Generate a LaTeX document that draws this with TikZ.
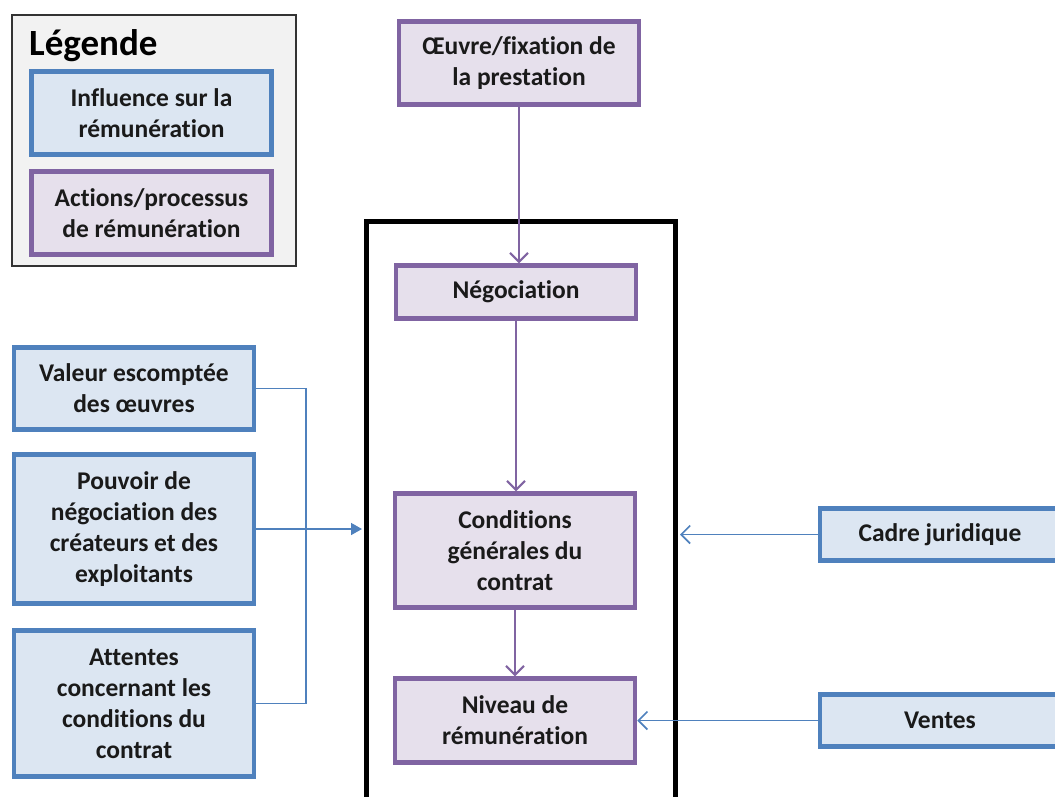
\documentclass[tikz,border=0pt]{standalone}
\usepackage{fontspec}
\setmainfont[Ligatures=NoCommon]{Carlito}
\usetikzlibrary{arrows.meta}
\definecolor{bfill}{HTML}{DCE6F2}
\definecolor{bdraw}{HTML}{4F81BD}
\definecolor{pfill}{HTML}{E6E0EC}
\definecolor{pdraw}{HTML}{8064A2}
\definecolor{lgfill}{HTML}{F2F2F2}
\definecolor{txt}{HTML}{1A1A1A}
\tikzset{
  box/.style={rectangle, line width=4.5pt, minimum width=240pt, align=center, text=txt,
    font=\bfseries\fontsize{25.5}{31}\selectfont, inner sep=2pt},
  infl/.style={box, draw=bdraw, fill=bfill},
  proc/.style={box, draw=pdraw, fill=pfill},
  plink/.style={draw=pdraw, line width=2pt, -{Straight Barb[length=9pt,width=18pt,line width=2pt]}},
  blink/.style={draw=bdraw, line width=1.6pt},
  barb/.style={blink, -{Straight Barb[length=9pt,width=18pt,line width=1.6pt]}},
}
\begin{document}
\begin{tikzpicture}[x=1pt,y=-1pt]
\useasboundingbox (0,0) rectangle (1055,796);
\clip (0,0) rectangle (1055,796);
% legend
\node[draw=black!80, fill=lgfill, line width=1.5pt, minimum width=284pt, minimum height=251pt] (legend) at (154,140.5) {};
\node[anchor=west, text=black, font=\bfseries\fontsize{37}{40}\selectfont, inner sep=0pt] (legtitle) at (29,46) {Légende};
\node[infl, minimum width=240pt, minimum height=83pt] (leginfl) at (151.5,113) {Influence sur la\\rémunération};
\node[proc, minimum width=240pt, minimum height=83pt] (legproc) at (151.5,213) {Actions/processus\\de rémunération};
% big black box
\node[draw=black, line width=5pt, minimum width=309pt, minimum height=600pt] (bigbox) at (521,521) {};
% process boxes
\node[proc, minimum height=83pt] (oeuvre) at (519,63) {Œuvre/fixation de\\la prestation};
\node[proc, minimum height=53pt] (neg) at (516,292) {Négociation};
\node[proc, minimum height=114pt] (cond) at (515,550.5) {Conditions\\générales du\\contrat};
\node[proc, minimum height=84pt] (niv) at (515,720.5) {Niveau de\\rémunération};
% influence boxes
\node[infl, minimum height=82pt] (valeur) at (134,388.5) {Valeur escomptée\\des œuvres};
\node[infl, minimum height=149pt] (pouvoir) at (134,529) {Pouvoir de\\négociation des\\créateurs et des\\exploitants};
\node[infl, minimum height=146pt] (attentes) at (134,703.5) {Attentes\\concernant les\\conditions du\\contrat};
\node[infl, minimum height=52pt] (cadre) at (940,534.5) {Cadre juridique};
\node[infl, minimum height=52pt] (ventes) at (940,720.5) {Ventes};
% connectors
\draw[plink] (oeuvre.south) -- (oeuvre.south |- neg.north);
\draw[plink] (neg.south) -- (neg.south |- cond.north);
\draw[plink] (cond.south) -- (cond.south |- niv.north);
\coordinate (bend) at (306,0);
\draw[blink] (valeur.east) -- (valeur.east -| bend) |- (attentes.east);
\draw[blink, -{Triangle[length=11pt,width=12pt]}] (pouvoir.east) -- ([xshift=-2pt]pouvoir.east -| bigbox.west);
\draw[barb] (cadre.west) -- ([xshift=2pt]cadre.west -| bigbox.east);
\draw[barb] (ventes.west) -- (ventes.west -| niv.east);
\end{tikzpicture}
\end{document}
